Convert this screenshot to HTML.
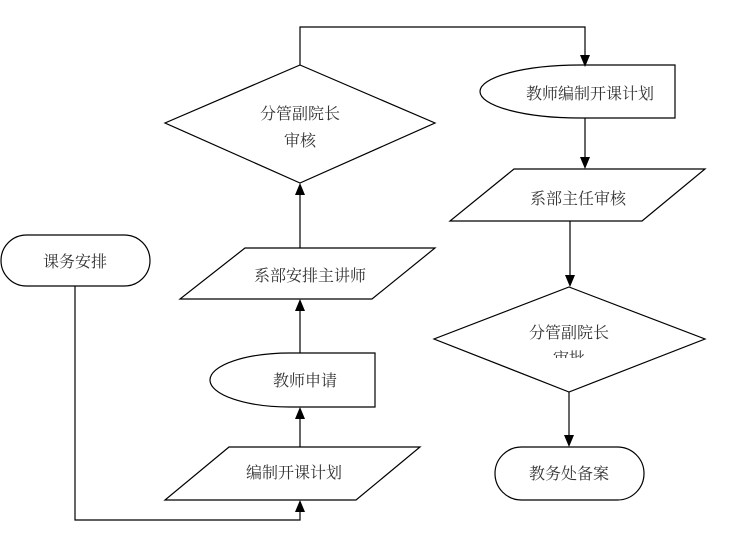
<!DOCTYPE html>
<html><head><meta charset="utf-8"><style>
html,body{margin:0;padding:0;background:#fff;}
svg{display:block;}
text{font-family:"Liberation Serif","Noto Serif CJK SC","Noto Sans CJK SC",serif;font-size:16px;fill:#333;text-anchor:middle;}
</style></head><body>
<svg width="734" height="546" viewBox="0 0 734 546" xmlns="http://www.w3.org/2000/svg">
<g fill="#fff" stroke="#000" stroke-width="1.2">
<polygon points="300,65 435,123 300,183 165,123"/>
<path d="M675,65 L675,118 L580,118 A100,26.5 0 0 1 580,65 Z"/>
<polygon points="514,169 705,169 642,221 450,221"/>
<polygon points="569,287 705,339 569,392 434,339"/>
<rect x="495" y="447" width="149" height="53" rx="26.5"/>
<rect x="1" y="235" width="149" height="51" rx="25.5"/>
<polygon points="245,248 435,248 372,299 180,299"/>
<path d="M375,353 L375,407 L290,407 A80,27 0 0 1 290,353 Z"/>
<polygon points="229,447 420,447 356,500 165,500"/>
</g>
<g fill="none" stroke="#000" stroke-width="1.2">
<polyline points="300,65 300,27 585,27 585,55"/>
<line x1="585" y1="118" x2="585" y2="158"/>
<line x1="570" y1="221" x2="570" y2="276"/>
<line x1="569" y1="392" x2="569" y2="436"/>
<polyline points="75,286 75,520 300,520 300,511"/>
<line x1="300" y1="447" x2="300" y2="418"/>
<line x1="300" y1="353" x2="300" y2="310"/>
<line x1="300" y1="248" x2="300" y2="194"/>
</g>
<g fill="#000">
<polygon points="580,55 590,55 585,67"/>
<polygon points="580,157 590,157 585,169"/>
<polygon points="565,275 575,275 570,287"/>
<polygon points="564,435 574,435 569,447"/>
<polygon points="295,512 305,512 300,500"/>
<polygon points="295,419 305,419 300,407"/>
<polygon points="295,311 305,311 300,299"/>
<polygon points="295,195 305,195 300,183"/>
</g>
<text x="300" y="119">分管副院长</text>
<text x="300" y="146">审核</text>
<text x="590" y="99">教师编制开课计划</text>
<text x="578" y="204">系部主任审核</text>
<text x="569" y="338">分管副院长</text>
<clipPath id="c"><rect x="500" y="350" width="140" height="8"/></clipPath>
<text x="569" y="364" clip-path="url(#c)">审批</text>
<text x="569" y="479">教务处备案</text>
<text x="75" y="267">课务安排</text>
<text x="310" y="281">系部安排主讲师</text>
<text x="305" y="386">教师申请</text>
<text x="294" y="478">编制开课计划</text>
</svg>
</body></html>
